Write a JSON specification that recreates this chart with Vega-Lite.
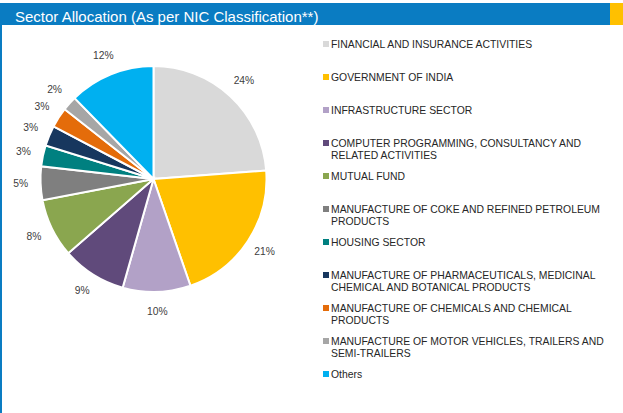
{
  "$schema": "https://vega.github.io/schema/vega-lite/v6.json",
  "padding": {"left": 0, "top": 3, "right": 0, "bottom": 0},
  "background": "white",
  "config": {"view": {"stroke": null}, "font": "Liberation Sans", "concat": {"spacing": 0}},
  "title": {"text": "Sector Allocation (As per NIC Classification**)", "anchor": "start", "orient": "top", "frame": "group", "offset": -34, "dx": 15, "baseline": "alphabetic", "color": "white", "fontSize": 15, "fontWeight": "normal", "font": "Liberation Sans"},
  "datasets": {
    "sectors": [
      {"idx": 1, "sector": "FINANCIAL AND INSURANCE ACTIVITIES", "label": "FINANCIAL AND INSURANCE ACTIVITIES", "value": 0.238},
      {"idx": 2, "sector": "GOVERNMENT OF INDIA", "label": "GOVERNMENT OF INDIA", "value": 0.209},
      {"idx": 3, "sector": "INFRASTRUCTURE SECTOR", "label": "INFRASTRUCTURE SECTOR", "value": 0.097},
      {"idx": 4, "sector": "COMPUTER PROGRAMMING, CONSULTANCY AND RELATED ACTIVITIES", "label": "COMPUTER PROGRAMMING, CONSULTANCY AND\nRELATED ACTIVITIES", "value": 0.092},
      {"idx": 5, "sector": "MUTUAL FUND", "label": "MUTUAL FUND", "value": 0.084},
      {"idx": 6, "sector": "MANUFACTURE OF COKE AND REFINED PETROLEUM PRODUCTS", "label": "MANUFACTURE OF COKE AND REFINED PETROLEUM\nPRODUCTS", "value": 0.048},
      {"idx": 7, "sector": "HOUSING SECTOR", "label": "HOUSING SECTOR", "value": 0.030},
      {"idx": 8, "sector": "MANUFACTURE OF PHARMACEUTICALS, MEDICINAL CHEMICAL AND BOTANICAL PRODUCTS", "label": "MANUFACTURE OF PHARMACEUTICALS, MEDICINAL\nCHEMICAL AND BOTANICAL PRODUCTS", "value": 0.029},
      {"idx": 9, "sector": "MANUFACTURE OF CHEMICALS AND CHEMICAL PRODUCTS", "label": "MANUFACTURE OF CHEMICALS AND CHEMICAL\nPRODUCTS", "value": 0.029},
      {"idx": 10, "sector": "MANUFACTURE OF MOTOR VEHICLES, TRAILERS AND SEMI-TRAILERS", "label": "MANUFACTURE OF MOTOR VEHICLES, TRAILERS AND\nSEMI-TRAILERS", "value": 0.021},
      {"idx": 11, "sector": "Others", "label": "Others", "value": 0.123}
    ],
    "none": []
  },
  "vconcat": [
    {
      "spacing": 0,
      "hconcat": [
        {"data": {"name": "none"}, "width": 610, "height": 22, "view": {"fill": "#0A7CC2", "stroke": null}, "mark": {"type": "point", "opacity": 0}, "encoding": {}},
        {"data": {"name": "none"}, "width": 13, "height": 22, "view": {"fill": "#FFC000", "stroke": null}, "mark": {"type": "point", "opacity": 0}, "encoding": {}}
      ]
    },
    {
      "spacing": 0,
      "hconcat": [
        {"data": {"name": "none"}, "width": 2, "height": 388, "view": {"fill": "#0A7CC2", "stroke": null}, "mark": {"type": "point", "opacity": 0}, "encoding": {}},
        {
          "data": {"name": "sectors"},
          "width": 303,
          "height": 308,
          "layer": [
            {
              "mark": {"type": "arc", "outerRadius": 113, "stroke": "white", "strokeWidth": 2},
              "encoding": {
                "theta": {"field": "value", "type": "quantitative", "stack": true},
                "order": {"field": "idx", "type": "quantitative"},
                "color": {
                  "field": "sector", "type": "nominal", "legend": null,
                  "scale": {
                    "domain": ["FINANCIAL AND INSURANCE ACTIVITIES", "GOVERNMENT OF INDIA", "INFRASTRUCTURE SECTOR", "COMPUTER PROGRAMMING, CONSULTANCY AND RELATED ACTIVITIES", "MUTUAL FUND", "MANUFACTURE OF COKE AND REFINED PETROLEUM PRODUCTS", "HOUSING SECTOR", "MANUFACTURE OF PHARMACEUTICALS, MEDICINAL CHEMICAL AND BOTANICAL PRODUCTS", "MANUFACTURE OF CHEMICALS AND CHEMICAL PRODUCTS", "MANUFACTURE OF MOTOR VEHICLES, TRAILERS AND SEMI-TRAILERS", "Others"],
                    "range": ["#D9D9D9", "#FFC000", "#B2A1C7", "#604A7B", "#8AA64F", "#7F7F7F", "#008080", "#17375E", "#E46C0A", "#A6A6A6", "#00B0F0"]
                  }
                }
              }
            },
            {
              "mark": {"type": "text", "radius": 133, "fontSize": 10.3, "color": "#404040", "font": "Liberation Sans"},
              "encoding": {
                "theta": {"field": "value", "type": "quantitative", "stack": true},
                "order": {"field": "idx", "type": "quantitative"},
                "detail": {"field": "sector", "type": "nominal"},
                "text": {"field": "value", "type": "quantitative", "format": ".0%"}
              }
            }
          ]
        },
        {
          "data": {"name": "sectors"},
          "width": 42,
          "height": 368,
          "layer": [
            {
              "mark": {"type": "point", "shape": "square", "filled": true, "size": 36, "opacity": 1},
              "encoding": {
                "y": {"field": "sector", "type": "nominal", "sort": null, "scale": {"type": "point", "padding": 0.5758}, "axis": null},
                "color": {
                  "field": "sector", "type": "nominal", "legend": null,
                  "scale": {
                    "domain": ["FINANCIAL AND INSURANCE ACTIVITIES", "GOVERNMENT OF INDIA", "INFRASTRUCTURE SECTOR", "COMPUTER PROGRAMMING, CONSULTANCY AND RELATED ACTIVITIES", "MUTUAL FUND", "MANUFACTURE OF COKE AND REFINED PETROLEUM PRODUCTS", "HOUSING SECTOR", "MANUFACTURE OF PHARMACEUTICALS, MEDICINAL CHEMICAL AND BOTANICAL PRODUCTS", "MANUFACTURE OF CHEMICALS AND CHEMICAL PRODUCTS", "MANUFACTURE OF MOTOR VEHICLES, TRAILERS AND SEMI-TRAILERS", "Others"],
                    "range": ["#D9D9D9", "#FFC000", "#B2A1C7", "#604A7B", "#8AA64F", "#7F7F7F", "#008080", "#17375E", "#E46C0A", "#A6A6A6", "#00B0F0"]
                  }
                }
              }
            },
            {
              "mark": {"type": "text", "align": "left", "baseline": "alphabetic", "dx": 5, "dy": 3.7, "fontSize": 10.4, "lineBreak": "\n", "lineHeight": 12, "color": "#262626", "font": "Liberation Sans"},
              "encoding": {
                "y": {"field": "sector", "type": "nominal", "sort": null, "scale": {"type": "point", "padding": 0.5758}, "axis": null},
                "text": {"field": "label", "type": "nominal"}
              }
            }
          ]
        }
      ]
    }
  ]
}
